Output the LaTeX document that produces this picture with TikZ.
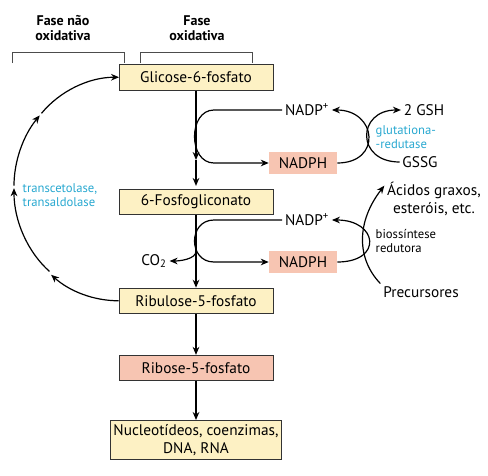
\documentclass[tikz,border=0pt]{standalone}
\usepackage{fontspec}
\setmainfont{PT Sans}
\usepackage{tikz}
\usetikzlibrary{arrows.meta, positioning}

\definecolor{boxyellow}{RGB}{253,241,196}
\definecolor{boxsalmon}{RGB}{247,197,178}
\definecolor{enzcyan}{RGB}{40,168,208}

\newcommand{\mainsize}{\fontsize{11.5}{13.5}\selectfont}
\newcommand{\smallsize}{\fontsize{9.5}{11}\selectfont}

\tikzstyle{block}  = [rectangle, minimum width=115.5pt, minimum height=19pt,
                      text centered, draw=black!80, line width=0.6pt]
\tikzstyle{yblock} = [block, fill=boxyellow]
\tikzstyle{sblock} = [block, fill=boxsalmon]
\tikzstyle{cofac}  = [rectangle, fill=boxsalmon, minimum width=51pt,
                      minimum height=17pt]
\tikzstyle{lbl}    = [inner sep=2pt]
\tikzstyle{enz}    = [font=\smallsize, align=left, text=enzcyan]
\tikzstyle{arrow}  = [-{Stealth[length=6pt, width=5pt]}, line width=0.9pt]
\tikzstyle{bracket}= [line width=0.5pt, draw=black!70]

\begin{document}
\begin{tikzpicture}[x=0.75pt, y=0.75pt, font=\mainsize]
  \useasboundingbox (0,0) rectangle (488,-475);

  % main column
  \node[yblock] (glc) at (196,-77.5) {Glicose-6-fosfato};
  \node[yblock, below=73.5pt of glc] (fos) {6-Fosfogliconato};
  \node[yblock, below=54.75pt of fos] (rib) {Ribulose-5-fosfato};
  \node[sblock, below=30.75pt of rib] (ribo) {Ribose-5-fosfato};
  \node[yblock, below=29.25pt of ribo, minimum width=124.5pt,
        minimum height=29pt, inner sep=2pt, align=center] (nuc)
    {Nucleotídeos, coenzimas,\\DNA, RNA};

  % phases
  \node[font=\fontsize{10.5}{11.25}\selectfont\bfseries, align=center] (fnox)
    at (63,-28) {Fase não\\oxidativa};
  \node[font=\fontsize{10.5}{11.25}\selectfont\bfseries, align=center] (fox)
    at (197,-28) {Fase\\oxidativa};
  \draw[bracket] (12,-63) -- (12,-52) -- (124,-52) -- (124,-63);
  \draw[bracket] (140,-63) -- (140,-52) -- (252,-52) -- (252,-63);

  % side products
  \node[lbl] (nadpa) at (307,-110) {NADP\textsuperscript{+}};
  \node[cofac] (nadpha) at (303,-163) {NADPH};
  \node[lbl] (gsh) at (424,-110) {2 GSH};
  \node[lbl] (gssg) at (420,-162) {GSSG};
  \node[enz, anchor=west] (glut) at (371,-137) {glutationa-\\-redutase};
  \node[lbl] (nadpb) at (307,-220) {NADP\textsuperscript{+}};
  \node[cofac] (nadphb) at (303,-262) {NADPH};
  \node[lbl, align=center] (acid) at (434,-199) {Ácidos graxos,\\esteróis, etc.};
  \node[font=\smallsize, align=left, anchor=west] (bios) at (371,-241)
    {biossíntese\\redutora};
  \node[lbl] (prec) at (421,-292) {Precursores};
  \node[lbl] (co2) at (154,-261) {CO\textsubscript{2}};
  \node[enz, anchor=west] (trans) at (18,-195) {transcetolase,\\transaldolase};

  \coordinate (c1) at (214,0);
  \coordinate (m1) at (196,-160);
  \coordinate (l1) at (51.5,-273.2);
  \coordinate (l2) at (14,-188.2);
  \coordinate (l3) at (39.8,-115.4);

  % main path
  \draw[arrow] (glc) -- (m1);
  \draw[arrow, shorten >=2pt] (m1) -- (fos);
  \draw[arrow] (fos) -- coordinate (br) (rib);
  \draw[arrow] (rib) -- (ribo);
  \draw[arrow] (ribo) -- (nuc);
  \draw[arrow] (br) .. controls +(0,-8) and +(10,0) .. (co2.east);

  % NADPH loops
  \draw[arrow] (nadpa.west) -- (nadpa.west -| c1)
    .. controls +(-26,0) and +(-26,0) .. (nadpha.west -| c1) -- (nadpha.west);
  \draw[arrow] (nadpb.west) -- (nadpb.west -| c1)
    .. controls +(-26,0) and +(-26,0) .. (nadphb.west -| c1) -- (nadphb.west);
  \draw[arrow] (nadpha.east) .. controls +(45,0) and +(45,0) .. (nadpa.east);
  \draw[arrow] (gssg.west) .. controls +(-44,0) and +(-44,0) .. (gsh.west);
  \draw[arrow] (nadphb.east) .. controls +(46,0) and +(46,0) .. (nadpb.east);
  \draw[arrow] (prec.north west) .. controls +(-24,25) and +(-28,-36) .. (acid.165);

  % non-oxidative return
  \draw[arrow] (rib.west) arc[start angle=270, end angle=230, x radius=105, y radius=111];
  \draw[arrow, shorten <=2pt] (l1) arc[start angle=230, end angle=180, x radius=105, y radius=111];
  \draw[arrow, shorten <=2pt] (l2) arc[start angle=180, end angle=139, x radius=105, y radius=111];
  \draw[arrow, shorten <=2pt] (l3) arc[start angle=139, end angle=90, x radius=105, y radius=111];
\end{tikzpicture}
\end{document}
